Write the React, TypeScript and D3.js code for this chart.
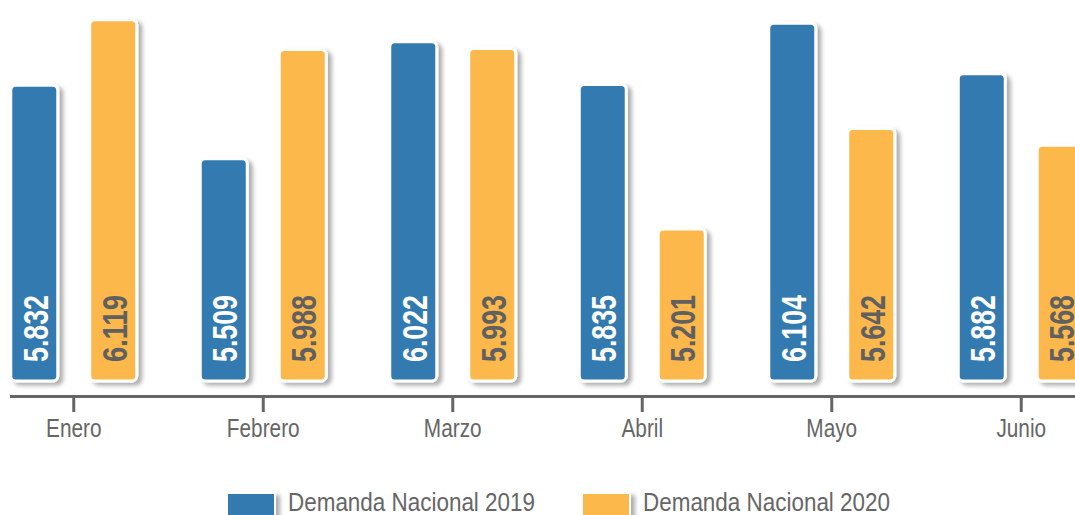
import React from "react";
import * as d3 from "d3";

const months = ["Enero", "Febrero", "Marzo", "Abril", "Mayo", "Junio"];
const seriesNames = ["Demanda Nacional 2019", "Demanda Nacional 2020"];
const values2019 = [5.832, 5.509, 6.022, 5.835, 6.104, 5.882];
const values2020 = [6.119, 5.988, 5.993, 5.201, 5.642, 5.568];
const labels2019 = ["5.832", "5.509", "6.022", "5.835", "6.104", "5.882"];
const labels2020 = ["6.119", "5.988", "5.993", "5.201", "5.642", "5.568"];

const W = 1075;
const H = 515;
const COLORS = ["#337AB0", "#FDB84C"];
const TEXT_COLORS = ["#FFFFFF", "#606060"];
const LFONT = "'Liberation Sans', Arial, sans-serif";

export default function App() {
  const x = d3.scaleBand<string>().domain(months).range([-21, 1116]);
  const xs = d3
    .scaleBand<number>()
    .domain([0, 1])
    .range([0, x.bandwidth()])
    .paddingInner(0.405)
    .paddingOuter(0.402);
  const y = d3.scaleLinear().domain([4.53, 6.2]).range([382, 382 - 228 * (6.2 - 4.53)]);
  const base = 381;
  const axisY = 396.5;
  const series = [values2019, values2020];
  const labels = [labels2019, labels2020];

  const legendX = [227, 582];

  return (
    <svg
      width={W}
      height={H}
      style={{ position: "absolute", left: 0, top: 0, background: "#fff" }}
    >
      <defs>
        <filter id="sh" x="-20%" y="-10%" width="150%" height="130%">
          <feDropShadow dx="4" dy="3" stdDeviation="2.2" floodColor="#000" floodOpacity="0.32" />
        </filter>
      </defs>
      {months.map((m, i) => (
        <g key={m}>
          {series.map((vals, s) => {
            const bx = (x(m) as number) + (xs(s) as number);
            const bw = xs.bandwidth();
            const top = y(vals[i]);
            const cx = bx + bw / 2 + 1;
            return (
              <g key={s}>
                <rect
                  x={bx}
                  y={top}
                  width={bw}
                  height={base - top}
                  rx={5}
                  ry={5}
                  fill={COLORS[s]}
                  stroke="#fff"
                  strokeWidth={3}
                  filter="url(#sh)"
                />
                <text
                  transform={`translate(${cx},${362}) rotate(-90)`}
                  dy="0.36em"
                  fontFamily={LFONT}
                  fontWeight="bold"
                  fontSize={35}
                  fill={TEXT_COLORS[s]}
                  textLength={67}
                  lengthAdjust="spacingAndGlyphs"
                >
                  {labels[s][i]}
                </text>
              </g>
            );
          })}
        </g>
      ))}
      <line x1={10} x2={W} y1={axisY} y2={axisY} stroke="#666" strokeWidth={3} />
      {months.map((m) => {
        const cx = (x(m) as number) + x.bandwidth() / 2;
        return (
          <g key={"t" + m}>
            <line x1={cx} x2={cx} y1={axisY} y2={412} stroke="#666" strokeWidth={3} />
            <text
              transform={`translate(${cx},437) scale(0.8,1)`}
              textAnchor="middle"
              fontFamily={LFONT}
              fontSize={26}
              fill="#666"
            >
              {m}
            </text>
          </g>
        );
      })}
      {seriesNames.map((name, s) => (
        <g key={name}>
          <rect
            x={legendX[s]}
            y={493}
            width={48}
            height={30}
            fill={COLORS[s]}
            stroke="#fff"
            strokeWidth={2}
            filter="url(#sh)"
          />
          <text
            x={legendX[s] + 61}
            y={511}
            fontFamily={LFONT}
            fontSize={25}
            fill="#666"
            textLength={247}
            lengthAdjust="spacingAndGlyphs"
          >
            {name}
          </text>
        </g>
      ))}
    </svg>
  );
}
